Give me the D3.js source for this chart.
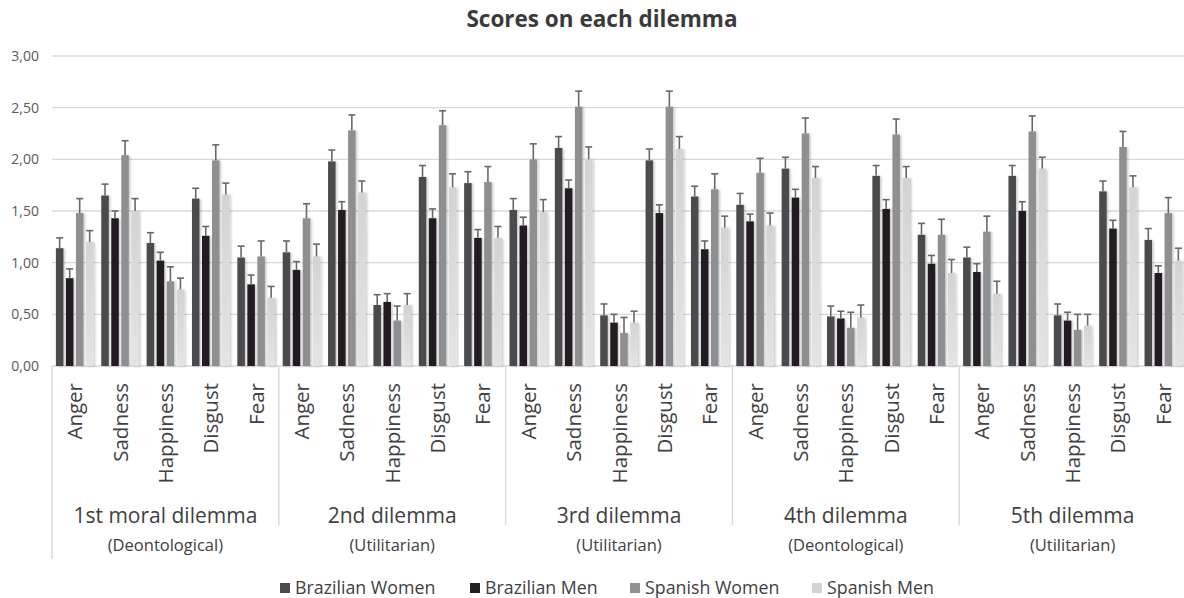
<!DOCTYPE html>
<html>
<head>
<meta charset="utf-8">
<script src="https://cdn.jsdelivr.net/npm/d3@7"></script>
<style>
  html, body { margin: 0; padding: 0; background: #fff; }
  svg { display: block; font-family: "Open Sans", "DejaVu Sans", sans-serif; }
</style>
</head>
<body>
<svg id="chart" width="1184" height="598"></svg>
<script>
// Emotion categories repeated in each dilemma
const emotions = ["Anger", "Sadness", "Happiness", "Disgust", "Fear"];
const dilemmas = ["1st moral dilemma", "2nd dilemma", "3rd dilemma", "4th dilemma", "5th dilemma"];
const dilemmaTypes = ["(Deontological)", "(Utilitarian)", "(Utilitarian)", "(Deontological)", "(Utilitarian)"];
const seriesNames = ["Brazilian Women", "Brazilian Men", "Spanish Women", "Spanish Men"];
const yTicks = [0, 0.5, 1, 1.5, 2, 2.5, 3];

// Mean scores, 25 values per group (5 dilemmas x 5 emotions)
const brazilianWomen = [1.14, 1.65, 1.19, 1.62, 1.05,  1.10, 1.98, 0.59, 1.83, 1.77,  1.51, 2.11, 0.49, 1.99, 1.64,  1.56, 1.91, 0.48, 1.84, 1.27,  1.05, 1.84, 0.49, 1.69, 1.22];
const brazilianMen   = [0.85, 1.43, 1.02, 1.26, 0.79,  0.93, 1.51, 0.62, 1.43, 1.24,  1.36, 1.72, 0.42, 1.48, 1.13,  1.40, 1.63, 0.46, 1.52, 0.99,  0.91, 1.50, 0.44, 1.33, 0.90];
const spanishWomen   = [1.48, 2.04, 0.82, 1.99, 1.06,  1.43, 2.28, 0.44, 2.33, 1.78,  2.00, 2.51, 0.32, 2.51, 1.71,  1.87, 2.25, 0.37, 2.24, 1.27,  1.30, 2.27, 0.35, 2.12, 1.48];
const spanishMen     = [1.20, 1.50, 0.74, 1.66, 0.66,  1.06, 1.68, 0.59, 1.73, 1.24,  1.49, 2.00, 0.42, 2.10, 1.34,  1.36, 1.82, 0.47, 1.82, 0.90,  0.70, 1.91, 0.39, 1.73, 1.02];

// Upper error bar lengths
const errBrazilianWomen = [0.10, 0.11, 0.10, 0.10, 0.11,  0.11, 0.11, 0.10, 0.11, 0.11,  0.11, 0.11, 0.11, 0.11, 0.10,  0.11, 0.11, 0.10, 0.10, 0.11,  0.10, 0.10, 0.11, 0.10, 0.11];
const errBrazilianMen   = [0.09, 0.07, 0.08, 0.09, 0.09,  0.08, 0.08, 0.08, 0.09, 0.08,  0.08, 0.08, 0.08, 0.08, 0.08,  0.07, 0.08, 0.07, 0.09, 0.08,  0.08, 0.09, 0.08, 0.08, 0.07];
const errSpanishWomen   = [0.14, 0.14, 0.14, 0.15, 0.15,  0.14, 0.15, 0.14, 0.14, 0.15,  0.15, 0.15, 0.15, 0.15, 0.15,  0.14, 0.15, 0.15, 0.15, 0.15,  0.15, 0.15, 0.15, 0.15, 0.15];
const errSpanishMen     = [0.11, 0.12, 0.11, 0.11, 0.11,  0.12, 0.11, 0.11, 0.13, 0.11,  0.12, 0.12, 0.11, 0.12, 0.11,  0.12, 0.11, 0.12, 0.11, 0.13,  0.12, 0.11, 0.11, 0.11, 0.12];

const seriesValues = [brazilianWomen, brazilianMen, spanishWomen, spanishMen];
const seriesErrors = [errBrazilianWomen, errBrazilianMen, errSpanishWomen, errSpanishMen];
const seriesColors = ["#4b4b4d", "#231f20", "#8f8f91", "url(#lightFill)"];
const legendColors = ["#4b4b4d", "#231f20", "#8f8f91", "#d3d3d3"];

const svg = d3.select("#chart");
const defs = svg.append("defs");

const grad = defs.append("linearGradient").attr("id", "lightFill")
  .attr("x1", 0).attr("y1", 0).attr("x2", 0).attr("y2", 1);
grad.append("stop").attr("offset", "0%").attr("stop-color", "#d3d3d3");
grad.append("stop").attr("offset", "100%").attr("stop-color", "#e4e4e4");

const shadow = defs.append("filter").attr("id", "barShadow")
  .attr("x", "-50%").attr("y", "-10%").attr("width", "200%").attr("height", "120%");
shadow.append("feDropShadow").attr("dx", 1.5).attr("dy", 0.5)
  .attr("stdDeviation", 1.2).attr("flood-color", "#000").attr("flood-opacity", 0.22);

const plotLeft = 52, plotRight = 1186, plotTop = 56, plotBottom = 366;

// Flat list of categories (dilemma index, emotion)
const cats = [];
dilemmas.forEach((d, di) => emotions.forEach((e, ei) => cats.push({ key: di + "-" + ei, di, emotion: e })));

const x = d3.scaleBand().domain(cats.map(c => c.key)).range([plotLeft, plotRight]).padding(0);
const xs = d3.scaleBand().domain(d3.range(seriesNames.length))
  .range([3.9, x.bandwidth() - 3.9]).paddingInner(0.25);
const y = d3.scaleLinear().domain([0, 3]).range([plotBottom, plotTop]);
const groupX = d3.scaleBand().domain(d3.range(dilemmas.length)).range([plotLeft, plotRight]);

// Title
svg.append("text").attr("x", 602).attr("y", 27).attr("text-anchor", "middle")
  .attr("font-size", 22.5).attr("font-weight", 700).attr("fill", "#3a3a3a")
  .text("Scores on each dilemma");

// Gridlines
svg.append("g").selectAll("line").data(yTicks).join("line")
  .attr("x1", plotLeft).attr("x2", plotRight)
  .attr("y1", d => y(d)).attr("y2", d => y(d))
  .attr("stroke", "#d9d9d9").attr("stroke-width", 1.4);

// Y axis labels
const yAxis = d3.axisLeft(y).tickValues(yTicks)
  .tickFormat(d => d3.format(".2f")(d).replace(".", ","))
  .tickSize(0).tickPadding(13);
const yg = svg.append("g").attr("transform", `translate(${plotLeft},0)`).call(yAxis);
yg.select(".domain").remove();
yg.selectAll("text").attr("font-size", 14).attr("fill", "#595959")
  .attr("font-family", "\"Open Sans\", sans-serif");

// Group separators
svg.append("g").selectAll("line").data(d3.range(dilemmas.length)).join("line")
  .attr("x1", d => groupX(d)).attr("x2", d => groupX(d))
  .attr("y1", plotBottom).attr("y2", d => d === 0 ? 559 : 525)
  .attr("stroke", "#d9d9d9").attr("stroke-width", 1.4);

// Bars
const bars = svg.append("g").attr("filter", "url(#barShadow)");
seriesValues.forEach((vals, si) => {
  bars.append("g").selectAll("rect").data(cats).join("rect")
    .attr("x", (c) => x(c.key) + xs(si))
    .attr("width", xs.bandwidth())
    .attr("y", (c, i) => y(vals[i]))
    .attr("height", (c, i) => y(0) - y(vals[i]))
    .attr("fill", seriesColors[si]);
});

// Error bars (upper half only)
const errG = svg.append("g").attr("stroke", "#686868").attr("stroke-width", 1.6);
seriesValues.forEach((vals, si) => {
  const errs = seriesErrors[si];
  const g = errG.append("g");
  g.selectAll("line.stem").data(cats).join("line").attr("class", "stem")
    .attr("x1", c => x(c.key) + xs(si) + xs.bandwidth() / 2)
    .attr("x2", c => x(c.key) + xs(si) + xs.bandwidth() / 2)
    .attr("y1", (c, i) => y(vals[i]))
    .attr("y2", (c, i) => y(vals[i] + errs[i]));
  g.selectAll("line.cap").data(cats).join("line").attr("class", "cap")
    .attr("x1", c => x(c.key) + xs(si) + xs.bandwidth() / 2 - 3.5)
    .attr("x2", c => x(c.key) + xs(si) + xs.bandwidth() / 2 + 3.5)
    .attr("y1", (c, i) => y(vals[i] + errs[i]))
    .attr("y2", (c, i) => y(vals[i] + errs[i]));
});

// Emotion labels (rotated)
svg.append("g").selectAll("text").data(cats).join("text")
  .attr("transform", c => `translate(${x(c.key) + x.bandwidth() / 2 + 7.5},383) rotate(-90)`)
  .attr("text-anchor", "end")
  .attr("font-size", 20.5).attr("fill", "#404040")
  .text(c => c.emotion);

// Dilemma labels
svg.append("g").selectAll("text").data(dilemmas).join("text")
  .attr("x", (d, i) => groupX(i) + groupX.bandwidth() / 2)
  .attr("y", 523)
  .attr("text-anchor", "middle").attr("font-size", 21).attr("fill", "#404040")
  .text(d => d);

svg.append("g").selectAll("text").data(dilemmaTypes).join("text")
  .attr("x", (d, i) => groupX(i) + groupX.bandwidth() / 2)
  .attr("y", 551)
  .attr("text-anchor", "middle").attr("font-size", 16.5).attr("fill", "#404040")
  .text(d => d);

// Legend
const legendX = [280, 470, 630, 812];
const legend = svg.append("g").selectAll("g").data(seriesNames).join("g")
  .attr("transform", (d, i) => `translate(${legendX[i]},583)`);
legend.append("rect").attr("width", 10).attr("height", 10)
  .attr("fill", (d, i) => legendColors[i]);
legend.append("text").attr("x", 15).attr("y", 11)
  .attr("font-size", 17.8).attr("fill", "#404040").text(d => d);
</script>
</body>
</html>
